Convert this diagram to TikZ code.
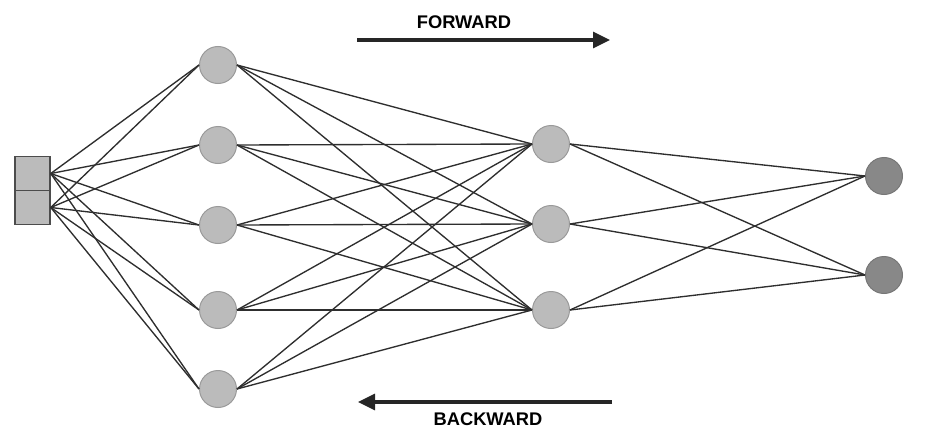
\documentclass[tikz,border=0pt]{standalone}
\usepackage{fontspec}
\setmainfont{Liberation Sans}
\usetikzlibrary{arrows.meta}
\definecolor{lightn}{HTML}{BBBBBB}
\definecolor{lightb}{HTML}{9A9A9A}
\definecolor{darkn}{HTML}{888888}
\definecolor{darkb}{HTML}{777777}
\definecolor{edgec}{HTML}{2E2E2E}
\tikzset{
  hid/.style={circle, fill=lightn, draw=lightb, line width=1pt, minimum size=37pt, inner sep=0pt},
  outn/.style={circle, fill=darkn, draw=darkb, line width=1pt, minimum size=37pt, inner sep=0pt},
  inbox/.style={rectangle, fill=lightn, draw=black!70, line width=1.5pt, minimum width=35pt, minimum height=34pt, inner sep=0pt},
  conn/.style={edgec, line width=1.35pt},
  dirarrow/.style={draw=black!85, line width=3.2pt, -{Triangle[length=17pt,width=16pt]}},
  dirlabel/.style={font=\bfseries\fontsize{18.3}{20}\selectfont, inner sep=0pt}
}
\begin{document}
\begin{tikzpicture}[x=1pt,y=-1pt]
\useasboundingbox (0,0) rectangle (942,444);
\node[inbox] (i1) at (32.5,173.5) {};
\node[inbox] (i2) at (32.5,207.5) {};
\foreach \n/\y in {1/65,2/145,3/225,4/310,5/389}
  \node[hid] (a\n) at (218,\y) {};
\foreach \n/\y in {1/144,2/224,3/310}
  \node[hid] (b\n) at (551,\y) {};
\node[outn] (c1) at (884,176) {};
\node[outn] (c2) at (884,275) {};
\foreach \i in {1,2}
  \foreach \j in {1,...,5}
    \draw[conn] (i\i.east) -- (a\j.west);
\foreach \i in {1,...,5}
  \foreach \j in {1,2,3}
    \draw[conn] (a\i.east) -- (b\j.west);
\foreach \i in {1,2,3}
  \foreach \j in {1,2}
    \draw[conn] (b\i.east) -- (c\j.west);
\coordinate (f0) at (357,40);
\coordinate (f1) at (610,40);
\coordinate (k0) at (612,402);
\coordinate (k1) at (358,402);
\draw[dirarrow] (f0) -- (f1);
\draw[dirarrow] (k0) -- (k1);
\node[dirlabel] (fl) at (464,22) {FORWARD};
\node[dirlabel] (bl) at (488,419.5) {BACKWARD};
\end{tikzpicture}
\end{document}
